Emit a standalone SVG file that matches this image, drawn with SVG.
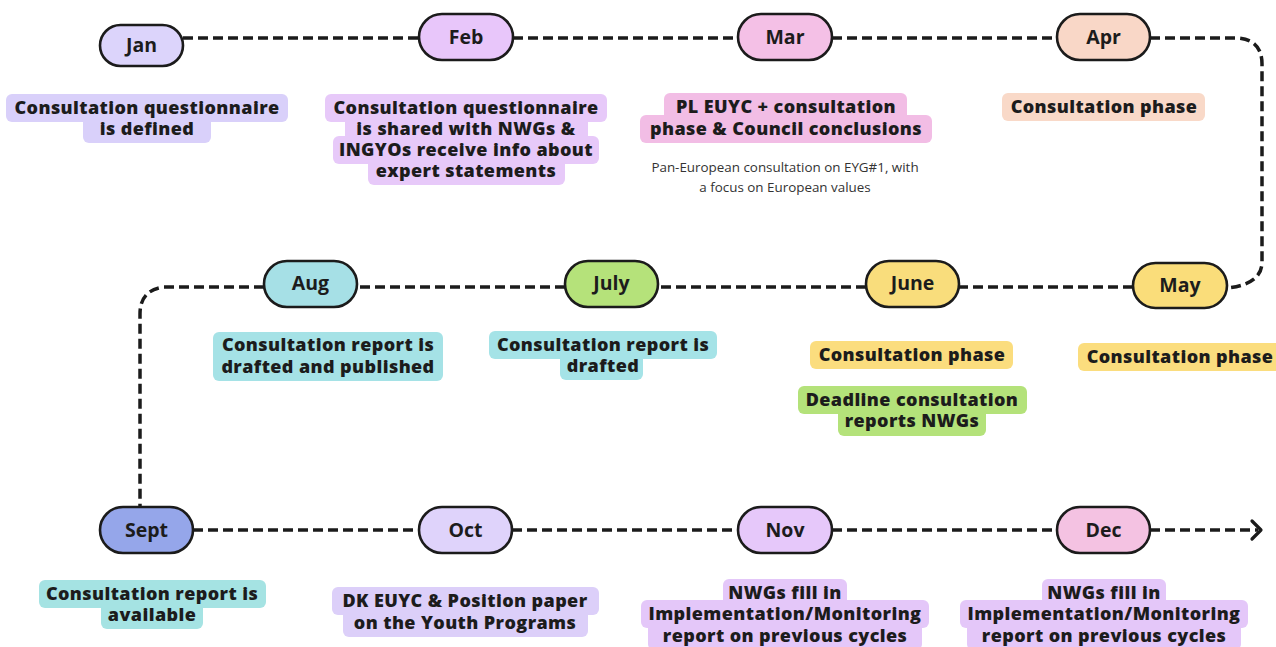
<svg xmlns="http://www.w3.org/2000/svg" width="1276" height="647" viewBox="0 0 1276 647">
<style>
.pill{stroke:#1b1b1b;stroke-width:2.6}
.m{font-family:"Open Sans","Liberation Sans",sans-serif;font-weight:700;font-size:19.5px;fill:#1c1c1c;text-anchor:middle}
.t{font-family:"Open Sans","Liberation Sans",sans-serif;font-weight:800;font-size:18px;letter-spacing:0.4px;fill:#1c1c1c;text-anchor:middle}
.s{font-family:"Open Sans","Liberation Sans",sans-serif;font-weight:400;font-size:13.4px;fill:#333;text-anchor:middle}
.c{fill:none;stroke:#1b1b1b;stroke-width:3.5;stroke-dasharray:10 5}
</style>
<rect width="1276" height="647" fill="#ffffff"/>
<g id="connectors">
<path class="c" d="M183,38 H419"/>
<path class="c" d="M513,38 H738"/>
<path class="c" d="M832,38 H1057"/>
<path class="c" d="M1150,38 H1238 Q1262,40 1262,64 V262 Q1262,284 1228,288"/>
<path class="c" d="M1133,287 H959"/>
<path class="c" d="M866,287 H658"/>
<path class="c" d="M565,287 H357"/>
<path class="c" d="M264,287 H164 Q140,290 140,314 V507"/>
<path class="c" d="M193,530 H419"/>
<path class="c" d="M512,530 H738"/>
<path class="c" d="M832,530 H1057"/>
<path class="c" d="M1150,530 H1258"/>
<polyline points="1252,521 1261,530 1252,539" fill="none" stroke="#1b1b1b" stroke-width="3.2" stroke-linecap="round" stroke-linejoin="round"/>
</g>
<g id="jan">
<rect class="pill" x="100" y="25" width="83" height="41" rx="20.5" fill="#dcd4fb"/>
<text class="m" x="141.5" y="52">Jan</text>
<rect x="6" y="94" width="282" height="28" rx="6" fill="#d9d0fa"/>
<rect x="83" y="115" width="128" height="28" rx="6" fill="#d9d0fa"/>
<text class="t" x="147" y="114">Consultation questionnaire</text>
<text class="t" x="147" y="135">is defined</text>
</g>
<g id="feb">
<rect class="pill" x="419" y="14" width="94" height="46" rx="23" fill="#e8c6fa"/>
<text class="m" x="466" y="44">Feb</text>
<rect x="325" y="94" width="282" height="28" rx="6" fill="#e7c9f9"/>
<rect x="345" y="115" width="243" height="28" rx="6" fill="#e7c9f9"/>
<rect x="333" y="136" width="266" height="28" rx="6" fill="#e7c9f9"/>
<rect x="368" y="157" width="197" height="28" rx="6" fill="#e7c9f9"/>
<text class="t" x="466" y="114">Consultation questionnaire</text>
<text class="t" x="466" y="135">is shared with NWGs &amp;</text>
<text class="t" x="466" y="156">INGYOs receive info about</text>
<text class="t" x="466" y="177">expert statements</text>
</g>
<g id="mar">
<rect class="pill" x="738" y="14" width="94" height="46" rx="23" fill="#f4c0e6"/>
<text class="m" x="785" y="44">Mar</text>
<rect x="664" y="93" width="243" height="28" rx="6" fill="#f2bde5"/>
<rect x="640" y="115" width="292" height="28" rx="6" fill="#f2bde5"/>
<text class="t" x="786" y="113">PL EUYC + consultation</text>
<text class="t" x="786" y="135">phase &amp; Council conclusions</text>
<text class="s" x="785" y="172">Pan-European consultation on EYG#1, with</text>
<text class="s" x="785" y="192">a focus on European values</text>
</g>
<g id="apr">
<rect class="pill" x="1057" y="14" width="93" height="46" rx="23" fill="#f9d7c7"/>
<text class="m" x="1103.5" y="44">Apr</text>
<rect x="1002" y="93" width="203" height="28" rx="6" fill="#f9d9c8"/>
<text class="t" x="1104" y="113">Consultation phase</text>
</g>
<g id="may">
<rect class="pill" x="1133" y="263" width="94" height="45" rx="22.5" fill="#fadd7a"/>
<text class="m" x="1180" y="292">May</text>
<rect x="1078" y="343" width="204" height="28" rx="6" fill="#fbdd7e"/>
<text class="t" x="1180" y="363">Consultation phase</text>
</g>
<g id="june">
<rect class="pill" x="866" y="261" width="93" height="46" rx="23" fill="#f9dd7c"/>
<text class="m" x="912.5" y="290">June</text>
<rect x="810" y="341" width="203" height="28" rx="6" fill="#fbdd7e"/>
<text class="t" x="912" y="361">Consultation phase</text>
<rect x="798" y="386" width="229" height="28" rx="6" fill="#b4e27a"/>
<rect x="838" y="408" width="148" height="28" rx="6" fill="#b4e27a"/>
<text class="t" x="912" y="406">Deadline consultation</text>
<text class="t" x="912" y="427">reports NWGs</text>
</g>
<g id="july">
<rect class="pill" x="565" y="261" width="93" height="46" rx="23" fill="#b5e27a"/>
<text class="m" x="611.5" y="290">July</text>
<rect x="489" y="331" width="228" height="28" rx="6" fill="#a5e3e7"/>
<rect x="560" y="352" width="83" height="28" rx="6" fill="#a5e3e7"/>
<text class="t" x="603" y="351">Consultation report is</text>
<text class="t" x="603" y="372">drafted</text>
</g>
<g id="aug">
<rect class="pill" x="264" y="261" width="93" height="46" rx="23" fill="#a6e0e6"/>
<text class="m" x="310.5" y="290">Aug</text>
<rect x="213" y="332" width="230" height="49" rx="6" fill="#a5e2e6"/>
<text class="t" x="328" y="351">Consultation report is</text>
<text class="t" x="328" y="373">drafted and published</text>
</g>
<g id="sept">
<rect class="pill" x="100" y="507" width="93" height="46" rx="23" fill="#95a6ea"/>
<text class="m" x="146.5" y="537">Sept</text>
<rect x="39" y="580" width="227" height="28" rx="6" fill="#a5e3e3"/>
<rect x="101" y="601" width="102" height="28" rx="6" fill="#a5e3e3"/>
<text class="t" x="152" y="600">Consultation report is</text>
<text class="t" x="152" y="621">available</text>
</g>
<g id="oct">
<rect class="pill" x="419" y="507" width="93" height="46" rx="23" fill="#dfd3fb"/>
<text class="m" x="465.5" y="537">Oct</text>
<rect x="332" y="587" width="267" height="28" rx="6" fill="#dccff9"/>
<rect x="343" y="609" width="245" height="28" rx="6" fill="#dccff9"/>
<text class="t" x="465" y="607">DK EUYC &amp; Position paper</text>
<text class="t" x="465" y="629">on the Youth Programs</text>
</g>
<g id="nov">
<rect class="pill" x="738" y="507" width="94" height="46" rx="23" fill="#e6c8fa"/>
<text class="m" x="785" y="537">Nov</text>
<rect x="723" y="579" width="124" height="28" rx="6" fill="#e4c7f9"/>
<rect x="641" y="600" width="288" height="28" rx="6" fill="#e4c7f9"/>
<rect x="648" y="622" width="274" height="28" rx="6" fill="#e4c7f9"/>
<text class="t" x="785" y="599">NWGs fill in</text>
<text class="t" x="785" y="620">Implementation/Monitoring</text>
<text class="t" x="785" y="642">report on previous cycles</text>
</g>
<g id="dec">
<rect class="pill" x="1057" y="507" width="93" height="46" rx="23" fill="#f4c2e2"/>
<text class="m" x="1103.5" y="537">Dec</text>
<rect x="1042" y="579" width="124" height="28" rx="6" fill="#e4c7f9"/>
<rect x="960" y="600" width="288" height="28" rx="6" fill="#e4c7f9"/>
<rect x="967" y="622" width="274" height="28" rx="6" fill="#e4c7f9"/>
<text class="t" x="1104" y="599">NWGs fill in</text>
<text class="t" x="1104" y="620">Implementation/Monitoring</text>
<text class="t" x="1104" y="642">report on previous cycles</text>
</g>
</svg>
